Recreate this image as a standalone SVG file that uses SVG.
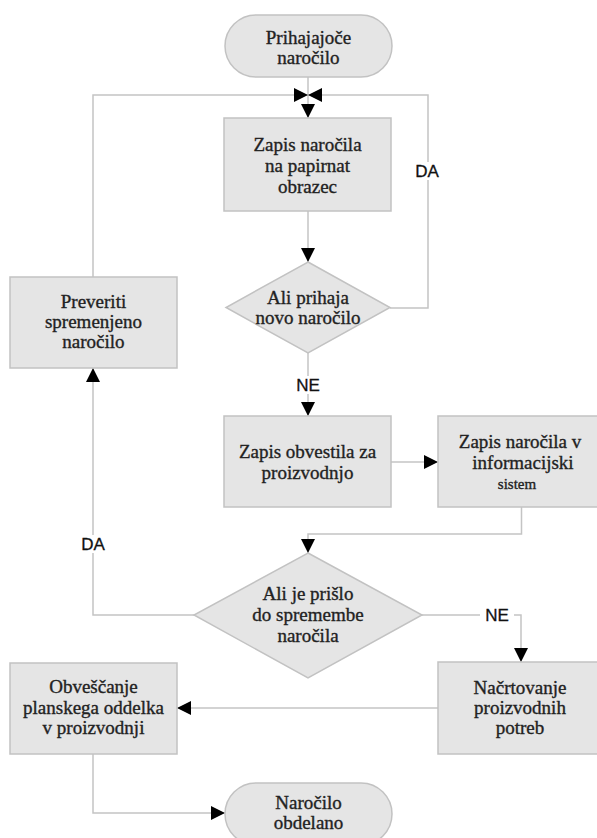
<svg xmlns="http://www.w3.org/2000/svg" width="597" height="838" viewBox="0 0 597 838">
  <style>
    .box { fill: #e5e5e5; stroke: #c2c2c2; stroke-width: 1.5; }
    .txt { font-family: "Liberation Serif", "Times New Roman", serif; font-size: 19px; fill: #222; stroke: #222; stroke-width: 0.35; text-anchor: middle; }
    .small { font-size: 15px; }
    .lbl { font-family: "Liberation Sans", Arial, sans-serif; font-size: 17px; fill: #111; stroke: #111; stroke-width: 0.3; text-anchor: middle; }
    .wire { fill: none; stroke: #c4c4c4; stroke-width: 1.5; }
    .gap { fill: #ffffff; }
  </style>
  <defs>
    <marker id="arrow" markerUnits="userSpaceOnUse" markerWidth="14" markerHeight="14" viewBox="0 0 12 12" refX="12" refY="6" orient="auto">
      <path d="M0,0 L12,6 L0,12 Z" fill="#000"/>
    </marker>
  </defs>

  <rect width="597" height="838" fill="#ffffff"/>

  <g id="connectors">
    <!-- start -> first record -->
    <path class="wire" d="M308,77 V118" marker-end="url(#arrow)"/>
    <!-- record -> decision 1 -->
    <path class="wire" d="M308,211 V262" marker-end="url(#arrow)"/>
    <!-- decision 1 yes: loop back up -->
    <path class="wire" d="M390,308 H428 V95 H308" marker-end="url(#arrow)"/>
    <!-- decision 1 no -->
    <path class="wire" d="M308,353 V416" marker-end="url(#arrow)"/>
    <!-- notice -> information system -->
    <path class="wire" d="M391,462 H438" marker-end="url(#arrow)"/>
    <!-- information system -> decision 2 -->
    <path class="wire" d="M521.5,507 V534 H308 V553" marker-end="url(#arrow)"/>
    <!-- decision 2 yes -> check changed order -->
    <path class="wire" d="M194,615 H93 V368" marker-end="url(#arrow)"/>
    <!-- check changed order -> back to the top -->
    <path class="wire" d="M93,277 V95 H308" marker-end="url(#arrow)"/>
    <!-- decision 2 no -> planning -->
    <path class="wire" d="M422,615 H521 V662" marker-end="url(#arrow)"/>
    <!-- planning -> notify planning department -->
    <path class="wire" d="M438,708 H177" marker-end="url(#arrow)"/>
    <!-- notify -> end -->
    <path class="wire" d="M93,754 V813 H225" marker-end="url(#arrow)"/>

    <!-- branch labels -->
    <rect class="gap" x="411" y="162" width="33" height="18"/>
    <text class="lbl" x="427" y="177">DA</text>
    <rect class="gap" x="291" y="376" width="34" height="18"/>
    <text class="lbl" x="308" y="391">NE</text>
    <rect class="gap" x="77" y="535" width="33" height="18"/>
    <text class="lbl" x="93" y="550">DA</text>
    <rect class="gap" x="480" y="606" width="34" height="18"/>
    <text class="lbl" x="497" y="621">NE</text>
  </g>

  <g id="start">
    <rect class="box" x="225" y="15" width="167" height="62" rx="31" ry="31"/>
    <text class="txt" x="308.5" y="44">Prihajajoče</text>
    <text class="txt" x="308.5" y="64">naročilo</text>
  </g>

  <g id="record-paper">
    <rect class="box" x="224" y="118" width="167" height="93"/>
    <text class="txt" x="307.5" y="151">Zapis naročila</text>
    <text class="txt" x="307.5" y="172">na papirnat</text>
    <text class="txt" x="307.5" y="193">obrazec</text>
  </g>

  <g id="decision-new">
    <polygon class="box" points="308,262 390,307.5 308,353 226,307.5"/>
    <text class="txt" x="308" y="304">Ali prihaja</text>
    <text class="txt" x="308" y="324">novo naročilo</text>
  </g>

  <g id="check-changed">
    <rect class="box" x="10" y="277" width="167" height="91"/>
    <text class="txt" x="93.5" y="308">Preveriti</text>
    <text class="txt" x="93.5" y="328">spremenjeno</text>
    <text class="txt" x="93.5" y="348">naročilo</text>
  </g>

  <g id="record-notice">
    <rect class="box" x="224" y="416" width="167" height="91"/>
    <text class="txt" x="307.5" y="458">Zapis obvestila za</text>
    <text class="txt" x="307.5" y="479">proizvodnjo</text>
  </g>

  <g id="record-system">
    <rect class="box" x="438" y="416" width="167" height="91"/>
    <text class="txt" x="520" y="448">Zapis naročila v</text>
    <text class="txt" x="523" y="469">informacijski</text>
    <text class="txt small" x="517" y="489">sistem</text>
  </g>

  <g id="decision-change">
    <polygon class="box" points="308,553 422,615 308,678 194,615"/>
    <text class="txt" x="308" y="600">Ali je prišlo</text>
    <text class="txt" x="308" y="621">do spremembe</text>
    <text class="txt" x="308" y="642">naročila</text>
  </g>

  <g id="notify-planning">
    <rect class="box" x="10" y="663" width="167" height="91"/>
    <text class="txt" x="93.5" y="693">Obveščanje</text>
    <text class="txt" x="93.5" y="714">planskega oddelka</text>
    <text class="txt" x="93.5" y="734">v proizvodnji</text>
  </g>

  <g id="planning">
    <rect class="box" x="438" y="662" width="167" height="92"/>
    <text class="txt" x="520" y="694">Načrtovanje</text>
    <text class="txt" x="520" y="714">proizvodnih</text>
    <text class="txt" x="520" y="734">potreb</text>
  </g>

  <g id="end">
    <rect class="box" x="225" y="783" width="167" height="62" rx="31" ry="31"/>
    <text class="txt" x="308.5" y="809">Naročilo</text>
    <text class="txt" x="308.5" y="829">obdelano</text>
  </g>
</svg>
